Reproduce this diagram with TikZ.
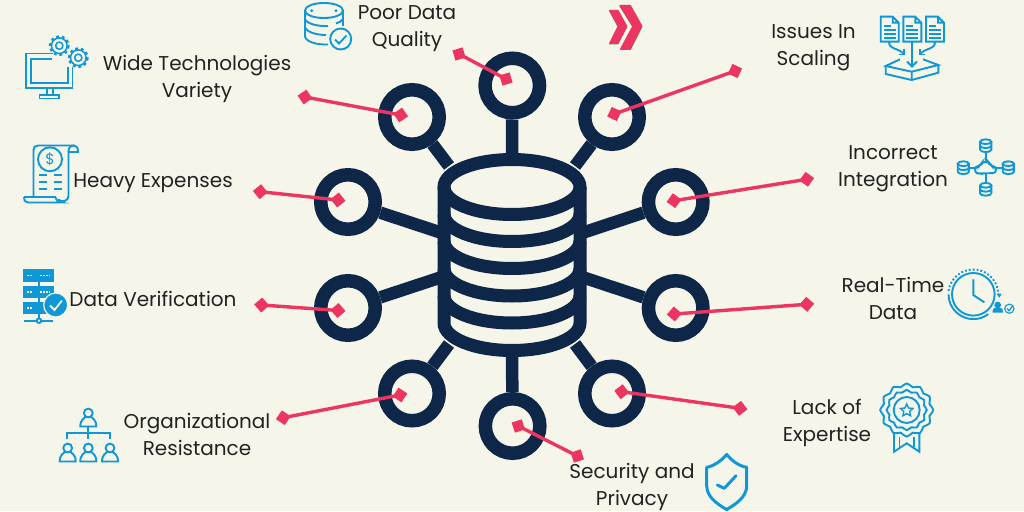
\documentclass[tikz,border=0pt]{standalone}
\usepackage{xcolor}
\usepackage{fontspec}
\setmainfont{Poppins}
\usetikzlibrary{calc, positioning, arrows.meta, shapes.geometric}
\definecolor{paper}{HTML}{F5F5E9}
\definecolor{navy}{HTML}{0E2748}
\definecolor{rose}{HTML}{EC3560}
\definecolor{iconblue}{HTML}{0F97D6}
\definecolor{inktext}{HTML}{222222}
% small pictograms, all in picture pixels
\newcommand{\gearicon}[2]{%
	\draw[icon, line width=1.5pt] (#1,#2) circle (3.6);
	\draw[icon, line width=1.5pt] (#1,#2) circle (7.8);
	\draw[icon, line width=2.4pt, dash pattern=on 2.9pt off 2.8pt] (#1,#2) circle (9.2);
}
\newcommand{\personicon}[2]{%
	\draw[icon] (#1,#2-7.5) circle (4.4);
	\draw[icon] (#1-8,#2+6) .. controls (#1-8,#2-1) and (#1-4,#2-2) .. (#1-3,#2-3.5) -- (#1+3,#2-3.5) .. controls (#1+4,#2-2) and (#1+8,#2-1) .. (#1+8,#2+6) -- cycle;
}
\newcommand{\minidb}[2]{%
	\draw[icon] (#1,#2-4) ellipse (5.6 and 2.4);
	\draw[icon] (#1-5.6,#2-4) -- (#1-5.6,#2+4) arc[start angle=180, end angle=0, x radius=5.6, y radius=2.4] -- (#1+5.6,#2-4);
	\draw[icon] (#1-5.6,#2) arc[start angle=180, end angle=0, x radius=5.6, y radius=2.4];
}
\newcommand{\paperdoc}[2]{%
	\draw[icon] (#1+12,#2) -- (#1,#2) -- (#1,#2+25) -- (#1+18,#2+25) -- (#1+18,#2+6) -- cycle (#1+12,#2) -- (#1+12,#2+6) -- (#1+18,#2+6);
	\draw[icon] (#1+3,#2+9) -- (#1+10,#2+9) (#1+3,#2+13) -- (#1+15,#2+13) (#1+3,#2+17) -- (#1+15,#2+17) (#1+3,#2+21) -- (#1+15,#2+21);
}
\begin{document}
\begin{tikzpicture}[
		x=1pt, y=-1pt,
		>={Diamond[length=15pt,width=15pt]},
		hub/.style={draw=navy, line width=13.5pt, circle, minimum size=54.5pt, inner sep=0pt},
		spoke/.style={draw=navy, line width=12.5pt},
		dbline/.style={draw=navy, line width=13pt},
		link/.style={draw=rose, line width=3.4pt, <->, shorten <=-7.5pt, shorten >=-7.5pt},
		label/.style={align=center, text=inktext, font=\fontsize{20}{27}\selectfont, inner sep=0pt},
		icon/.style={draw=iconblue, line width=1.9pt}
	]
	\useasboundingbox[fill=paper] (0,0) rectangle (1024,511);

	% database stack
	\coordinate (dbtop) at (512,160);
	\coordinate (dbbottom) at (512,350);
	\coordinate (dbnw) at (449,166);
	\coordinate (dbne) at (575,166);
	\coordinate (dbw1) at (445,234);
	\coordinate (dbe1) at (579,234);
	\coordinate (dbw2) at (445,276);
	\coordinate (dbe2) at (579,276);
	\coordinate (dbsw) at (449,344);
	\coordinate (dbse) at (575,344);

	% rings
	\node[hub] (quality) at (512.3,85.5) {};
	\node[hub] (variety) at (412,117) {};
	\node[hub] (scaling) at (612,117) {};
	\node[hub] (expenses) at (348,202) {};
	\node[hub] (integration) at (675.7,202) {};
	\node[hub] (verification) at (348,308) {};
	\node[hub] (realtime) at (675.7,308) {};
	\node[hub] (resistance) at (412,393.5) {};
	\node[hub] (expertise) at (612,393.5) {};
	\node[hub] (security) at (512.6,426) {};

	\draw[spoke] (quality) -- (dbtop);
	\draw[spoke] (variety) -- (dbnw);
	\draw[spoke] (scaling) -- (dbne);
	\draw[spoke] (expenses) -- (dbw1);
	\draw[spoke] (integration) -- (dbe1);
	\draw[spoke] (verification) -- (dbw2);
	\draw[spoke] (realtime) -- (dbe2);
	\draw[spoke] (resistance) -- (dbsw);
	\draw[spoke] (expertise) -- (dbse);
	\draw[spoke] (security) -- (dbbottom);

	\draw[dbline] (512,187) ellipse (68 and 27.5);
	\draw[dbline] (444,214) arc[start angle=180, end angle=0, x radius=68, y radius=27.5];
	\draw[dbline] (444,241) arc[start angle=180, end angle=0, x radius=68, y radius=27.5];
	\draw[dbline] (444,268.5) arc[start angle=180, end angle=0, x radius=68, y radius=27.5];
	\draw[dbline] (444,295.5) arc[start angle=180, end angle=0, x radius=68, y radius=27.5];
	\draw[dbline] (444,187) -- (444,323) arc[start angle=180, end angle=0, x radius=68, y radius=27.5] -- (580,187);

	% pink pointers
	\coordinate (qualityin) at (506,79);
	\coordinate (qualityout) at (459,54);
	\coordinate (varietyin) at (400.7,115);
	\coordinate (varietyout) at (305,97);
	\coordinate (scalingin) at (614.3,114);
	\coordinate (scalingout) at (735,71);
	\coordinate (expensesin) at (338,200);
	\coordinate (expensesout) at (260.3,191.7);
	\coordinate (integrationin) at (674,200.7);
	\coordinate (integrationout) at (806.7,179.3);
	\coordinate (verificationin) at (338,310.5);
	\coordinate (verificationout) at (261.7,305);
	\coordinate (realtimein) at (674.3,314);
	\coordinate (realtimeout) at (806.7,304.3);
	\coordinate (resistancein) at (400,395);
	\coordinate (resistanceout) at (283.3,417.7);
	\coordinate (expertisein) at (621.7,391.7);
	\coordinate (expertiseout) at (740,408.3);
	\coordinate (securityin) at (518.3,426);
	\coordinate (securityout) at (577.3,456);
	\draw[link] (qualityin) -- (qualityout);
	\draw[link] (varietyin) -- (varietyout);
	\draw[link] (scalingin) -- (scalingout);
	\draw[link] (expensesin) -- (expensesout);
	\draw[link] (integrationin) -- (integrationout);
	\draw[link] (verificationin) -- (verificationout);
	\draw[link] (realtimein) -- (realtimeout);
	\draw[link] (resistancein) -- (resistanceout);
	\draw[link] (expertisein) -- (expertiseout);
	\draw[link] (securityin) -- (securityout);

	% labels
	\node[label] (qualitytext) at (407,28.5) {Poor Data\\Quality};
	\node[label] (varietytext) at (197,79) {Wide Technologies\\Variety};
	\node[label] (scalingtext) at (813.5,47.5) {Issues In\\Scaling};
	\node[label] (expensestext) at (153,183) {Heavy Expenses};
	\node[label] (integrationtext) at (893,168.5) {Incorrect\\Integration};
	\node[label] (verificationtext) at (153,299) {Data Verification};
	\node[label] (realtimetext) at (893,298.5) {Real-Time\\Data};
	\node[label] (resistancetext) at (197,434.5) {Organizational\\Resistance};
	\node[label] (expertisetext) at (827,423) {Lack of\\Expertise};
	\node[label] (securitytext) at (632,486.5) {Security and\\Privacy};

	% chevrons
	\fill[black!55] (619.3,6) -- (630.7,6) -- (642.3,27) -- (630.7,50) -- (620,50) -- (632.3,27) -- cycle;
	\fill[rose] (619.3,5) -- (630.7,5) -- (642.3,25.7) -- (630.7,49) -- (620,49) -- (632.3,26) -- cycle;
	\fill[black!55] (609,11) -- (618.3,11) -- (627.3,27) -- (618.3,44.3) -- (609,44.3) -- (617.7,27) -- cycle;
	\fill[rose] (609,10) -- (618.3,10) -- (627.3,26) -- (618.3,43.3) -- (609,43.3) -- (617.7,26) -- cycle;

	% monitor and gears
	\draw[icon] (53,53.5) -- (26,53.5) -- (26,88) -- (72.5,88) -- (72.5,67);
	\draw[icon] (52,59) -- (31,59) -- (31,83) -- (68,83) -- (68,67);
	\draw[icon] (47,88) -- (47,95) (53,88) -- (53,95);
	\draw[icon] (39.5,95) rectangle (59,98.5);
	\gearicon{59.3}{45.7}
	\gearicon{78.3}{57.7}

	% receipt
	\draw[icon] (33.5,197) -- (33.5,150) .. controls (33.5,147) and (35,145.5) .. (38,145.5) -- (74,145.5) .. controls (77,145.5) and (78,148) .. (78,152) -- (68.5,152) -- (68.5,196) .. controls (68.5,201) and (62,203) .. (58,199.5);
	\draw[icon] (68.5,152) .. controls (68.5,148) and (70,145.5) .. (74,145.5);
	\draw[icon] (24,197) -- (55,197) .. controls (56,200) and (58,202) .. (62,202.5) -- (28,202.5) .. controls (25,202.5) and (23.5,200) .. (24,197);
	\draw[icon] (50,159.3) circle (12);
	\node[text=iconblue, font=\fontsize{15}{15}\selectfont, inner sep=0pt] (dollar) at (50,159.3) {\$};
	\draw[icon] (39,175) -- (46.7,175) (39,181.7) -- (46.7,181.7) (39,189.3) -- (46.7,189.3);
	\draw[icon] (54.3,175) -- (62.3,175) (54.3,181.7) -- (62.3,181.7) (54.3,189.3) -- (62.3,189.3);

	% server rack
	\fill[iconblue] (23.3,269.3) rectangle (54.3,281.7);
	\fill[iconblue] (23.3,286) rectangle (54.3,297.7);
	\fill[iconblue] (23.3,302.3) rectangle (54.3,314);
	\draw[draw=paper, line width=1.3pt, dash pattern=on 1.5pt off 1.5pt] (27,275.5) -- (33,275.5) (40,275.5) -- (50,275.5) (27,292) -- (33,292) (40,292) -- (50,292) (27,308) -- (33,308);
	\draw[icon] (39,281) -- (39,287) (39,297) -- (39,303) (39,314) -- (39,318) (24.3,320.7) -- (53.3,320.7);
	\draw[icon, fill=paper] (39,320.7) circle (2.3);
	\draw[fill=iconblue, draw=paper, line width=1.2pt] (55.7,305) circle (12);
	\draw[draw=paper, line width=1.8pt] (50,305.5) -- (54.5,310) -- (62,300.5);

	% people tree
	\personicon{88.3}{420.5}
	\personicon{67.7}{455.5}
	\personicon{88.3}{455.5}
	\personicon{110}{455.5}
	\draw[icon] (88.3,427) -- (88.3,439) (66.7,439) -- (66.7,433.3) -- (110.3,433.3) -- (110.3,439);

	% database with check
	\draw[icon] (324,10.5) ellipse (19 and 7.5);
	\fill[iconblue] (311.7,10.7) circle (1.6) (336,10.7) circle (1.6);
	\draw[icon] (305,10.5) -- (305,36) .. controls (305,41) and (315,45) .. (328,44.5);
	\draw[icon] (343,10.5) -- (343,26);
	\draw[icon] (305,19) .. controls (307,24) and (318,26.5) .. (328,26);
	\draw[icon] (305,27.5) .. controls (307,32) and (316,35) .. (326,35);
	\draw[icon] (343,19) .. controls (342,21) and (339,22.5) .. (336,23.5);
	\draw[icon, fill=paper] (340.7,39) circle (10.5);
	\draw[icon, line width=1.8pt] (335,39.5) -- (339,43.5) -- (346.5,35.5);

	% documents into tray
	\paperdoc{880.7}{16.7}
	\paperdoc{903.3}{16.7}
	\paperdoc{926}{16.7}
	\draw[icon] (889,41.7) .. controls (889,50) and (897,47) .. (904,54);
	\draw[icon] (899,54.5) -- (904,54.5) -- (904,49);
	\draw[icon] (935,41.7) .. controls (935,50) and (927,47) .. (920,54);
	\draw[icon] (925,54.5) -- (920,54.5) -- (920,49);
	\draw[icon] (912,41.7) -- (912,66.5) (907,61.5) -- (912,66.5) -- (917,61.5);
	\draw[icon] (900,59.3) -- (885.7,66) -- (911.7,71.7) -- (938.3,65) -- (923,59.3);
	\draw[icon] (885.7,66) -- (885.7,74) -- (911.7,80) -- (938.3,72.7) -- (938.3,65) (911.7,71.7) -- (911.7,80);

	% cloud with four stores
	\minidb{985.7}{145.7}
	\minidb{985.7}{189.3}
	\minidb{963.3}{167.7}
	\minidb{1008.3}{167.7}
	\draw[icon] (985.7,153) -- (985.7,161) (985.7,174) -- (985.7,182) (970,168) -- (975,168) (996,168) -- (1002,168);
	\draw[icon, rounded corners=3pt] (979,173.5) -- (975,173) -- (975,167) -- (980,166) -- (982,162) -- (989,162) -- (991,166) -- (996,167) -- (996,173) -- cycle;

	% clock
	\draw[icon] (973.3,294.3) circle (21.3);
	\draw[icon] (948.5,294.3) arc[start angle=180, end angle=53, radius=24.8];
	\draw[icon, dotted] (948.5,291) arc[start angle=188, end angle=360, radius=25];
	\draw[icon] (973.3,279.3) -- (973.3,295) -- (984.3,302.3);
	\draw[icon, fill=iconblue, line width=.8pt] (997.5,294) -- (1001,294) -- (999.3,297) -- cycle;
	\fill[iconblue] (997.7,305) circle (3.4);
	\fill[iconblue] (992.5,312.5) .. controls (992.5,307) and (995,308) .. (997.7,308) .. controls (1000,308) and (1003,307) .. (1003,312.5) -- cycle;
	\draw[icon, line width=1.1pt] (1009.3,308.7) circle (4.6);
	\draw[icon, line width=1.3pt] (1007,308.5) -- (1009,310.7) -- (1013,305.5);

	% rosette
	\draw[icon] plot[smooth cycle, samples=48, domain=0:352.5, variable=\t] ({906.7+(25+1.5*cos(12*\t))*cos(\t)}, {410+(25+1.5*cos(12*\t))*sin(\t)});
	\draw[icon] plot[smooth cycle, samples=48, domain=0:352.5, variable=\t] ({906.7+(19+1.1*cos(12*\t))*cos(\t)}, {410+(19+1.1*cos(12*\t))*sin(\t)});
	\draw[icon] (906.7,410) circle (13);
	\node[star, star points=5, star point ratio=2.1, draw=iconblue, line width=1.4pt, minimum size=13pt, inner sep=0pt] (rosettestar) at (906.7,410.5) {};
	\draw[icon] (894,433) -- (894,451.7) -- (906.7,443.3) -- (919.3,451.7) -- (919.3,433);
	\draw[icon] (899.5,437) -- (899.5,447) (914,437) -- (914,447);

	% shield
	\draw[iconblue, line width=3pt, line join=round] (726.7,454.5) .. controls (721,461) and (714,466) .. (706.7,467.3) -- (706.7,486) .. controls (707,497) and (717,504) .. (726.7,509.5) .. controls (736,504) and (746.5,497) .. (746.7,486) -- (746.7,467.3) .. controls (739,466) and (732,461) .. (726.7,454.5) -- cycle;
	\draw[iconblue, line width=3pt, line cap=round, line join=round] (717.3,485) -- (724.3,488.3) -- (736,475.7);
\end{tikzpicture}
\end{document}
